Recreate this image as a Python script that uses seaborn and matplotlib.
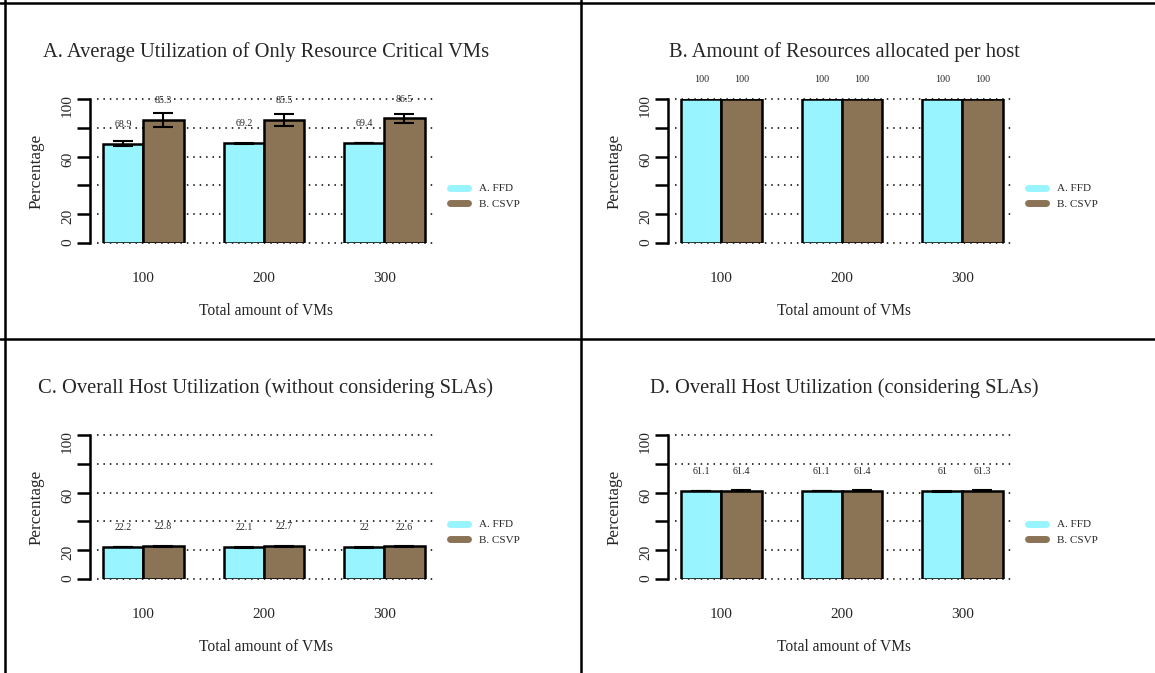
import matplotlib
matplotlib.use("Agg")
import matplotlib.pyplot as plt
from matplotlib.lines import Line2D
import pandas as pd
import seaborn as sns

# ---- data -------------------------------------------------------------
vm_counts = ["100", "200", "300"]
algorithms = ["A. FFD", "B. CSVP"]
bar_colors = ["#98F5FF", "#8B7355"]

titles = [
    "A. Average Utilization of Only Resource Critical VMs",
    "B. Amount of Resources allocated per host",
    "C. Overall Host Utilization (without considering SLAs)",
    "D. Overall Host Utilization (considering SLAs)",
]

# A: utilization of resource-critical VMs
crit_ffd = [68.9, 69.2, 69.4]
crit_csvp = [85.3, 85.5, 86.5]
crit_ffd_sd = [1.7, 0.5, 0.3]
crit_csvp_sd = [4.8, 4.1, 3.0]

# B: resources allocated per host
alloc_ffd = [100, 100, 100]
alloc_csvp = [100, 100, 100]
alloc_ffd_sd = [0.0, 0.0, 0.0]
alloc_csvp_sd = [0.0, 0.0, 0.0]

# C: host utilization without SLAs
util_ffd = [22.2, 22.1, 22.0]
util_csvp = [22.8, 22.7, 22.6]
util_ffd_sd = [0.3, 0.3, 0.3]
util_csvp_sd = [0.3, 0.3, 0.3]

# D: host utilization with SLAs
sla_ffd = [61.1, 61.1, 61.0]
sla_csvp = [61.4, 61.4, 61.3]
sla_ffd_sd = [0.3, 0.3, 0.3]
sla_csvp_sd = [0.3, 0.3, 0.3]

y_ticks = [0, 20, 40, 60, 80, 100]
y_tick_labels = ["0", "20", "", "60", "", "100"]

panels = [
    (crit_ffd, crit_csvp, crit_ffd_sd, crit_csvp_sd),
    (alloc_ffd, alloc_csvp, alloc_ffd_sd, alloc_csvp_sd),
    (util_ffd, util_csvp, util_ffd_sd, util_csvp_sd),
    (sla_ffd, sla_csvp, sla_ffd_sd, sla_csvp_sd),
]

# ---- style ------------------------------------------------------------
sns.set_theme(style="white")
plt.rcParams["font.family"] = ["Liberation Serif", "DejaVu Serif"]

W, H = 1155, 673
fig = plt.figure(figsize=(W / 100, H / 100), dpi=100)
fig.patch.set_facecolor("white")


def fx(px):
    return px / W


def fy(py):
    return 1 - py / H


palette = dict(zip(algorithms, bar_colors))

for i, (title, (ffd, csvp, ffd_sd, csvp_sd)) in enumerate(zip(titles, panels)):
    row, col = divmod(i, 2)
    left, right = 97 + 578 * col, 435 + 578 * col
    top, bottom = 99 + 336 * row, 243 + 336 * row
    ax = fig.add_axes([fx(left), fy(bottom), fx(right - left), (bottom - top) / H])

    df = pd.DataFrame({
        "vms": vm_counts * 2,
        "alg": [algorithms[0]] * 3 + [algorithms[1]] * 3,
        "value": list(ffd) + list(csvp),
    })
    sd = {algorithms[0]: ffd_sd, algorithms[1]: csvp_sd}

    # dotted reference lines behind the bars
    for t in y_ticks:
        ax.axhline(t, color="black", lw=1.1, ls=(0, (1, 3.2)), zorder=0, clip_on=False)

    sns.barplot(data=df, x="vms", y="value", hue="alg", order=vm_counts,
                hue_order=algorithms, palette=palette, saturation=1,
                width=2 / 3, errorbar=None, edgecolor="black", linewidth=1.8,
                legend=False, ax=ax, zorder=2)

    for cont, alg in zip(ax.containers, algorithms):
        xs = [b.get_x() + b.get_width() / 2 for b in cont]
        hs = [b.get_height() for b in cont]
        errs = sd[alg]
        if any(e > 0 for e in errs):
            ax.errorbar(xs, hs, yerr=errs, fmt="none", ecolor="black",
                        elinewidth=1.5, capsize=7.4, capthick=1.5, zorder=3)
        for x, h in zip(xs, hs):
            ax.text(x, h + 13.5, f"{h:g}", ha="center", va="center",
                    fontsize=7.2, zorder=4)

    ax.set_xlim(-0.385, 2.42)
    ax.set_ylim(0, 100)
    ax.set_yticks(y_ticks)
    ax.set_yticklabels(y_tick_labels, fontsize=11)
    ax.tick_params(axis="y", length=9.4, width=1.8, pad=2.2, left=True,
                   color="black", labelrotation=90)
    for lab in ax.get_yticklabels():
        lab.set_va("center")
    ax.tick_params(axis="x", length=0, pad=21, labelsize=11)

    for s in ["top", "right", "bottom"]:
        ax.spines[s].set_visible(False)
    ax.spines["left"].set_position(("outward", 5))
    ax.spines["left"].set_linewidth(1.8)
    ax.spines["left"].set_color("black")

    ax.set_xlabel("Total amount of VMs", fontsize=11.2)
    ax.xaxis.set_label_coords(0.5, -68 / 144)
    ax.xaxis.label.set_va("center")
    ax.set_ylabel("Percentage", fontsize=12.3)
    ax.yaxis.set_label_coords((37 - 97) / 338, 0.5)
    ax.yaxis.label.set_va("center")

    ax.text(0.5, 1 + 47 / 144, title, transform=ax.transAxes, ha="center",
            va="center", fontsize=14.8)

    handles = [Line2D([0], [0], color=c, lw=5, solid_capstyle="round") for c in bar_colors]
    ax.legend(handles, algorithms, loc="center left",
              bbox_to_anchor=(fx(450 + 578 * col), fy(196.5 + 336 * row)),
              bbox_transform=fig.transFigure, frameon=False, fontsize=8,
              handlelength=1.6, handletextpad=1.0, borderpad=0, borderaxespad=0,
              labelspacing=0.55)

# panel frame lines
for y in (3, 339):
    fig.add_artist(Line2D([0, 1], [fy(y), fy(y)], color="black", lw=1.8))
for x in (5, 581):
    fig.add_artist(Line2D([fx(x), fx(x)], [0, 1], color="black", lw=1.8))

fig.savefig("out.png", dpi=100)
